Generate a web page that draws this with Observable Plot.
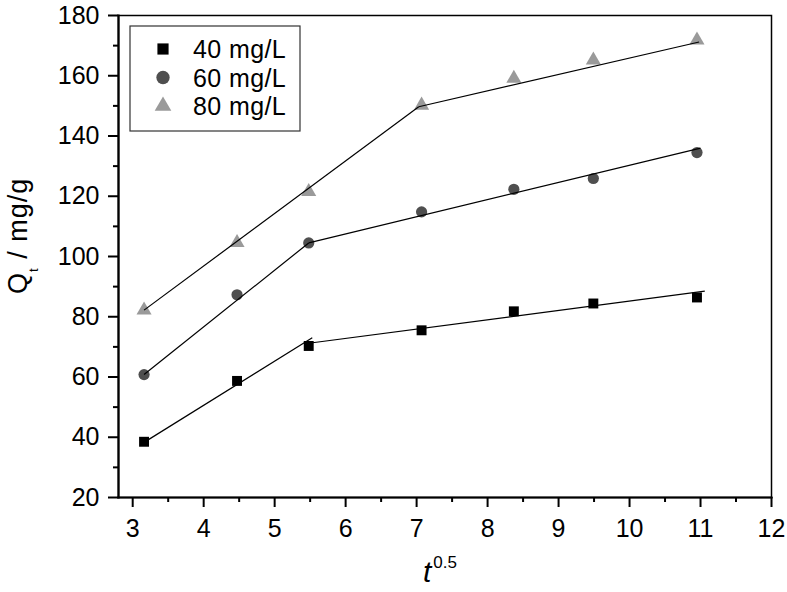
<!DOCTYPE html>
<html>
<head>
<meta charset="utf-8">
<script src="https://cdn.jsdelivr.net/npm/d3@7"></script>
<script src="https://cdn.jsdelivr.net/npm/@observablehq/plot@0.6"></script>
<style>
  body { margin: 0; background: #fff; }
  #wrap { position: relative; width: 787px; height: 592px; }
  #wrap svg { position: absolute; left: 0; top: 0; }
</style>
</head>
<body>
<div id="wrap"></div>
<script>
// ---- data ----
const tSqrt = [3.16, 4.47, 5.48, 7.07, 8.37, 9.49, 10.95];
const q40 = [38.5, 58.7, 70.3, 75.5, 81.8, 84.4, 86.4];
const q60 = [60.8, 87.3, 104.5, 114.8, 122.3, 125.9, 134.5];
const q80 = [82.2, 104.6, 121.5, 150.2, 159.1, 165.2, 171.8];
const seriesNames = ["40 mg/L", "60 mg/L", "80 mg/L"];

// fitted line segments (intra-particle diffusion stages)
const fitSeries = ["40 mg/L", "40 mg/L", "60 mg/L", "60 mg/L", "80 mg/L", "80 mg/L"];
const fitX1 = [3.16, 5.48, 3.16, 5.48, 3.16, 7.03];
const fitY1 = [38.3, 71.2, 60.8, 104.5, 82.2, 149.7];
const fitX2 = [5.53, 11.06, 5.48, 11.0, 7.03, 10.98];
const fitY2 = [73.0, 88.5, 104.5, 136.0, 149.7, 171.2];

const yTicks = [20, 40, 60, 80, 100, 120, 140, 160, 180];
const yMinor = [30, 50, 70, 90, 110, 130, 150, 170];
const xTicks = [3, 4, 5, 6, 7, 8, 9, 10, 11, 12];
const xMinor = [3.5, 4.5, 5.5, 6.5, 7.5, 8.5, 9.5, 10.5, 11.5];

// ---- styling ----
const fills = {"40 mg/L": "#000000", "60 mg/L": "#4f4f4f", "80 mg/L": "#9a9a9a"};
const symbols = {"40 mg/L": "square", "60 mg/L": "circle", "80 mg/L": "triangle"};
const radii = {"40 mg/L": 5.6, "60 mg/L": 5.6, "80 mg/L": 5.6};

const points = [];
[q40, q60, q80].forEach((arr, k) => arr.forEach((q, i) => points.push({t: tSqrt[i], q, s: seriesNames[k]})));
const fits = fitSeries.map((s, i) => ({s, x1: fitX1[i], y1: fitY1[i], x2: fitX2[i], y2: fitY2[i]}));

const font = "'Liberation Sans', Arial, Helvetica, sans-serif";

const chart = Plot.plot({
  width: 787,
  height: 592,
  marginLeft: 118,
  marginRight: 16,
  marginTop: 15,
  marginBottom: 95,
  style: {fontFamily: font, fontSize: "25px", color: "#000", background: "#fff"},
  x: {domain: [2.8, 12], label: null},
  y: {domain: [20, 180], label: null},
  marks: [
    Plot.axisY({ticks: yTicks, tickSize: 10, tickPadding: 9, strokeWidth: 2, label: null, fontSize: 25}),
    Plot.axisY({ticks: yMinor, tickSize: 5, text: null, strokeWidth: 2, label: null}),
    Plot.axisX({ticks: xTicks, tickSize: 10, tickPadding: 12, strokeWidth: 2, label: null, fontSize: 25}),
    Plot.axisX({ticks: xMinor, tickSize: 5, text: null, strokeWidth: 2, label: null}),
    Plot.frame({stroke: "#000", strokeWidth: 1.5}),
    Plot.frame({anchor: "left", stroke: "#000", strokeWidth: 2.2}),
    Plot.frame({anchor: "bottom", stroke: "#000", strokeWidth: 2.2}),
    ...seriesNames.map(s => Plot.dot(points.filter(d => d.s === s), {
      x: "t", y: "q", symbol: () => symbols[s], r: radii[s], fill: fills[s], stroke: "none"
    })),
    Plot.link(fits, {x1: "x1", y1: "y1", x2: "x2", y2: "y2", stroke: "#000", strokeWidth: 1.2})
  ]
});

const wrap = document.getElementById("wrap");
wrap.appendChild(chart);

// ---- overlay: legend and axis titles ----
const ov = d3.select(wrap).append("svg")
  .attr("width", 787).attr("height", 592)
  .style("pointer-events", "none")
  .style("font-family", font);

// legend
const lg = ov.append("g");
lg.append("rect").attr("x", 130).attr("y", 26).attr("width", 170).attr("height", 105)
  .attr("fill", "#fff").attr("stroke", "#333").attr("stroke-width", 1.2);
const legendSizes = {"40 mg/L": 125, "60 mg/L": 140, "80 mg/L": 120};
seriesNames.forEach((s, i) => {
  const cy = 49 + i * 28.5;
  const sym = {square: d3.symbolSquare, circle: d3.symbolCircle, triangle: d3.symbolTriangle}[symbols[s]];
  lg.append("path").attr("transform", `translate(163,${cy})`)
    .attr("d", d3.symbol(sym, legendSizes[s])()).attr("fill", fills[s]);
  lg.append("text").attr("x", 193).attr("y", cy).attr("dy", "0.36em")
    .attr("font-size", 25).attr("letter-spacing", 0.4).attr("fill", "#000").text(s);
});

// y title
const yt = ov.append("text").attr("transform", "translate(27,294) rotate(-90)")
  .attr("font-size", 27).attr("letter-spacing", 1).attr("fill", "#000");
yt.append("tspan").text("Q");
yt.append("tspan").attr("font-size", 13).attr("dy", 11).text("t");
yt.append("tspan").attr("dy", -11).text(" / mg/g");

// x title
const xt = ov.append("text").attr("x", 423).attr("y", 582).attr("fill", "#000");
xt.append("tspan").attr("font-size", 30).attr("font-style", "italic").text("t");
xt.append("tspan").attr("font-size", 17).attr("dy", -14).attr("dx", 2).text("0.5");
</script>
</body>
</html>
